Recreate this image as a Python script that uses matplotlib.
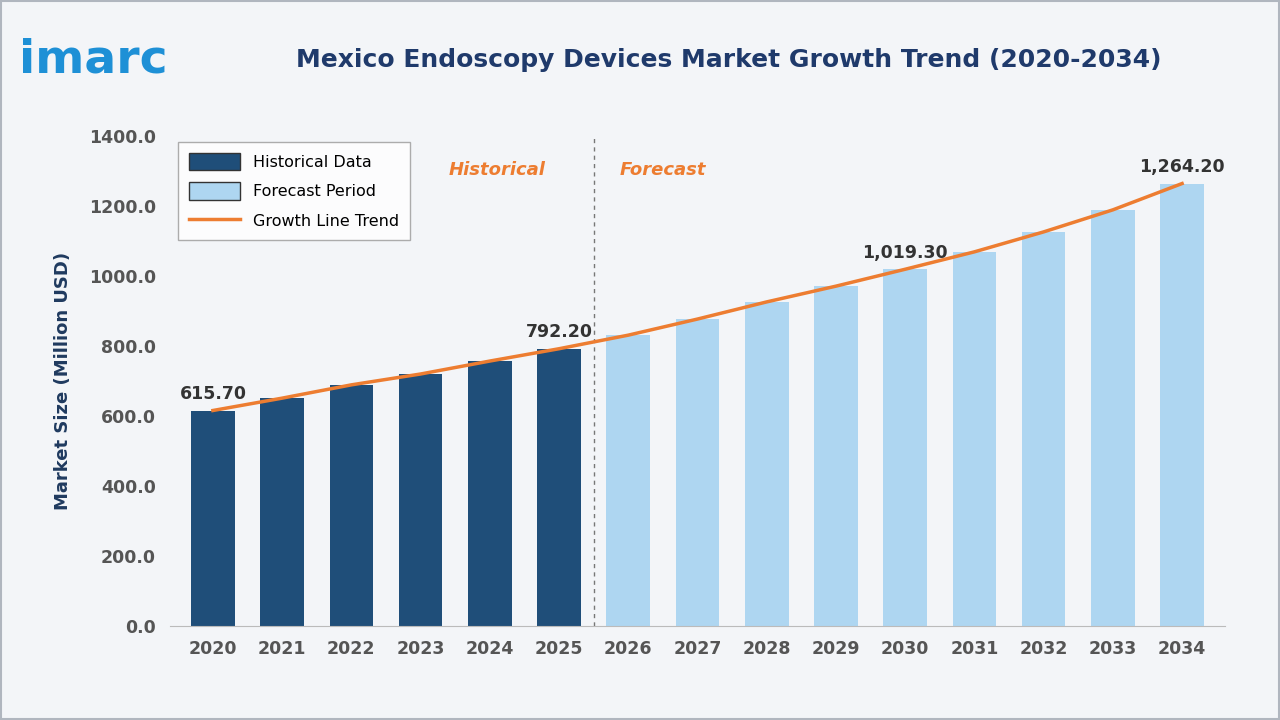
import matplotlib
matplotlib.use("Agg")
import matplotlib.pyplot as plt
from matplotlib.patches import Rectangle

years = ["2020","2021","2022","2023","2024","2025","2026","2027","2028","2029","2030","2031","2032","2033","2034"]
values = [615.7,651,689,720,757,792.2,831,877,926,971,1019.3,1069,1126,1189,1264.2]
n_hist = 6
labels = {0:"615.70",5:"792.20",10:"1,019.30",14:"1,264.20"}
yticks = [0,200,400,600,800,1000,1200,1400]

fig = plt.figure(figsize=(12.8,7.2), dpi=100)
fig.patch.set_facecolor("#f3f5f8")
fig.add_artist(Rectangle((0.001,0.001),0.998,0.998,transform=fig.transFigure,fill=False,edgecolor="#b0b6bf",lw=1.5))
ax = fig.add_axes([170/1280, 1-626/720, (1225-170)/1280, (626-136)/720])
ax.set_facecolor("none")
x = list(range(len(years)))
cols = ["#1f4e79"]*n_hist + ["#aed6f1"]*(len(years)-n_hist)
ax.bar(x, values, width=0.63, color=cols, zorder=2)
ax.plot(x, values, color="#ed7d31", lw=2.5, zorder=3)
for i,t in labels.items():
    ax.text(i, values[i]+22, t, ha="center", va="bottom", fontsize=12.5, fontweight="bold", color="#333333", zorder=4)
ax.axvline(5.5, color="#777777", ls=(0,(3,3)), lw=1)
ax.text(4.1, 1290, "Historical", color="#ed7d31", fontsize=13, fontweight="bold", style="italic", ha="center")
ax.text(6.5, 1290, "Forecast", color="#ed7d31", fontsize=13, fontweight="bold", style="italic", ha="center")
ax.set_xlim(-0.62, len(years)-0.38)
ax.set_ylim(0,1400)
ax.set_yticks(yticks)
ax.set_yticklabels([f"{v:.1f}" for v in yticks])
ax.set_xticks(x)
ax.set_xticklabels(years)
for lab in ax.get_xticklabels()+ax.get_yticklabels():
    lab.set_fontsize(12.5); lab.set_fontweight("bold"); lab.set_color("#555555")
ax.tick_params(length=0, pad=10)
for s in ["top","right","left"]:
    ax.spines[s].set_visible(False)
ax.spines["bottom"].set_color("#bbbbbb")
ax.set_ylabel("Market Size (Million USD)", fontsize=13, fontweight="bold", color="#1f3a5f", labelpad=12)
from matplotlib.patches import Patch
from matplotlib.lines import Line2D
h = [Patch(facecolor="#1f4e79", edgecolor="#333333"), Patch(facecolor="#aed6f1", edgecolor="#333333"), Line2D([0],[0],color="#ed7d31",lw=2.5)]
leg = ax.legend(h, ["Historical Data","Forecast Period","Growth Line Trend"], loc="upper left", bbox_to_anchor=(0.0,1.005),
          fontsize=11.5, frameon=True, fancybox=False, edgecolor="#999999", borderpad=0.7, labelspacing=0.75, handlelength=3.2, handleheight=1.3)
leg.get_frame().set_facecolor("white")
fig.text(0.569, 0.917, "Mexico Endoscopy Devices Market Growth Trend (2020-2034)", ha="center", va="center",
         fontsize=18, fontweight="bold", color="#1f3a6b")
fig.text(0.015, 0.917, "imarc", fontsize=34, fontweight="bold", color="#1e90d6", va="center", ha="left")
fig.savefig("out.png", dpi=100, facecolor=fig.get_facecolor())
